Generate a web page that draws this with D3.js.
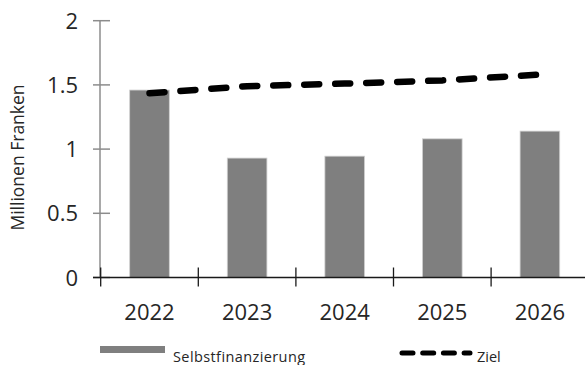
<!DOCTYPE html>
<html>
<head>
<meta charset="utf-8">
<script src="https://cdn.jsdelivr.net/npm/d3@7"></script>
<style>
  html, body { margin: 0; padding: 0; background: #fff; }
  svg { display: block; }
  text { font-family: "Open Sans", "Liberation Sans", sans-serif; fill: #262626; }
</style>
</head>
<body>
<svg id="chart" width="585" height="365"></svg>
<script>
// Jahre und Werte (Millionen Franken)
const years = ["2022", "2023", "2024", "2025", "2026"];
const selbstfinanzierung = [1.46, 0.93, 0.945, 1.08, 1.14];
const ziel = [1.435, 1.49, 1.51, 1.535, 1.58];
const yTicks = [0, 0.5, 1, 1.5, 2];

const svg = d3.select("#chart");

const x = d3.scaleBand().domain(years).range([100.7, 588.7]).padding(0);
const y = d3.scaleLinear().domain([0, 2]).range([277.5, 20.7]);
const barFrac = 0.406;

// Balken
svg.append("g")
  .selectAll("rect")
  .data(years.map((yr, i) => ({ yr, v: selbstfinanzierung[i] })))
  .join("rect")
  .attr("x", d => x(d.yr) + x.bandwidth() * (1 - barFrac) / 2)
  .attr("width", x.bandwidth() * barFrac)
  .attr("y", d => y(d.v))
  .attr("height", d => y(0) - y(d.v))
  .attr("fill", "#7f7f7f")
  .attr("stroke", "#d0d0d0")
  .attr("stroke-width", 0.8);

// Y-Achse
const yAxisG = svg.append("g").attr("transform", `translate(${x.range()[0] - 0.7},0)`);
yAxisG.append("line")
  .attr("x1", 0).attr("x2", 0)
  .attr("y1", y(2)).attr("y2", y(0))
  .attr("stroke", "#8c8c8c").attr("stroke-width", 1.5);
yAxisG.selectAll("line.tick")
  .data(yTicks)
  .join("line")
  .attr("class", "tick")
  .attr("x1", -7).attr("x2", 10)
  .attr("y1", d => y(d)).attr("y2", d => y(d))
  .attr("stroke", "#8c8c8c").attr("stroke-width", 1.5);
yAxisG.selectAll("text")
  .data(yTicks)
  .join("text")
  .attr("x", -22)
  .attr("y", d => y(d) + 8)
  .attr("text-anchor", "end")
  .attr("font-size", 22)
  .text(d => d3.format("")(d));

// X-Achse
svg.append("line")
  .attr("x1", 93).attr("x2", 585)
  .attr("y1", y(0)).attr("y2", y(0))
  .attr("stroke", "#1a1a1a").attr("stroke-width", 1.3);
const bounds = years.map(yr => x(yr));
svg.selectAll("line.xtick")
  .data(bounds)
  .join("line")
  .attr("class", "xtick")
  .attr("x1", d => d).attr("x2", d => d)
  .attr("y1", y(0) - 10).attr("y2", y(0) + 9)
  .attr("stroke", "#1a1a1a").attr("stroke-width", 1.3);
svg.selectAll("text.xlab")
  .data(years)
  .join("text")
  .attr("class", "xlab")
  .attr("x", d => x(d) + x.bandwidth() / 2)
  .attr("y", 320)
  .attr("text-anchor", "middle")
  .attr("font-size", 22)
  .text(d => d);

// Achsentitel
svg.append("text")
  .attr("transform", "translate(24,157.5) rotate(-90)")
  .attr("text-anchor", "middle")
  .attr("font-size", 17.5)
  .text("Millionen Franken");

// Ziellinie
const line = d3.line()
  .x((d, i) => x(years[i]) + x.bandwidth() / 2)
  .y(d => y(d));
svg.append("path")
  .datum(ziel)
  .attr("d", line)
  .attr("fill", "none")
  .attr("stroke", "#000")
  .attr("stroke-width", 6.5)
  .attr("stroke-linecap", "round")
  .attr("stroke-dasharray", "15,16");

// Legende
const leg = svg.append("g");
leg.append("rect")
  .attr("x", 100).attr("y", 346).attr("width", 65).attr("height", 7)
  .attr("fill", "#7f7f7f");
leg.append("text")
  .attr("x", 173).attr("y", 362)
  .attr("font-size", 14.5)
  .attr("letter-spacing", 0.4)
  .text("Selbstfinanzierung");
leg.append("line")
  .attr("x1", 402).attr("x2", 470)
  .attr("y1", 353).attr("y2", 353)
  .attr("stroke", "#000").attr("stroke-width", 5)
  .attr("stroke-linecap", "round")
  .attr("stroke-dasharray", "11,9.7");
leg.append("text")
  .attr("x", 477).attr("y", 362)
  .attr("font-size", 14.5)
  .text("Ziel");
</script>
</body>
</html>
